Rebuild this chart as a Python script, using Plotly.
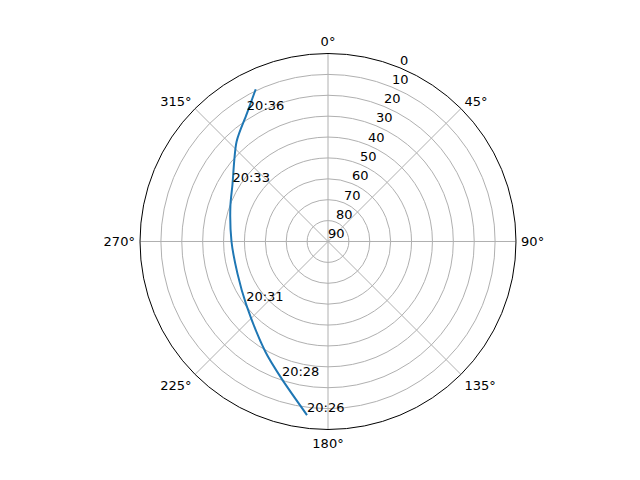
import plotly.graph_objects as go

# satellite pass (azimuth deg, elevation deg)
azimuth = [186.9, 198.5, 209.6, 232.5, 250.3, 270.0, 289.9, 300.7, 317.5, 327.6, 334.6]
elevation = [6.3, 20.5, 29.3, 40.6, 44.0, 43.8, 40.3, 36.8, 25.2, 17.5, 9.3]

# time labels along the track
label_az = [186.9, 198.5, 232.5, 300.7, 327.6]
label_el = [6.3, 20.5, 40.6, 36.8, 17.5]
label_text = ["20:26", "20:28", "20:31", "20:33", "20:36"]

radial_ticks = [0, 10, 20, 30, 40, 50, 60, 70, 80, 90]
angle_ticks = [0, 45, 90, 135, 180, 225, 270, 315]

font = dict(family="DejaVu Sans", size=13, color="black")

fig = go.Figure()

fig.add_trace(go.Scatterpolar(
    r=elevation,
    theta=azimuth,
    mode="lines",
    line=dict(color="#1f77b4", width=2, shape="spline", smoothing=0.8),
    showlegend=False,
))

fig.add_trace(go.Scatterpolar(
    r=label_el,
    theta=label_az,
    mode="text",
    text=label_text,
    textposition="top right",
    textfont=font,
    showlegend=False,
))

# radial tick labels, matplotlib style: along the 22.5 deg spoke
fig.add_trace(go.Scatterpolar(
    r=radial_ticks,
    theta=[22.5] * len(radial_ticks),
    mode="text",
    text=[str(t) for t in radial_ticks],
    textposition="top right",
    textfont=font,
    cliponaxis=False,
    showlegend=False,
))

fig.update_layout(
    width=640,
    height=480,
    margin=dict(l=0, r=0, t=0, b=0),
    paper_bgcolor="white",
    font=font,
    polar=dict(
        domain=dict(x=[0.20625, 0.79375], y=[0.1219, 0.9052]),
        bgcolor="white",
        angularaxis=dict(
            rotation=90,
            direction="clockwise",
            tickvals=angle_ticks,
            ticktext=[f"{a}°" for a in angle_ticks],
            ticks="outside",
            ticklen=2,
            tickcolor="rgba(0,0,0,0)",
            showline=True,
            linecolor="black",
            linewidth=1,
            gridcolor="#b0b0b0",
            gridwidth=1,
        ),
        radialaxis=dict(
            range=[90, 0],
            tickvals=radial_ticks,
            showticklabels=False,
            ticks="",
            showline=False,
            gridcolor="#b0b0b0",
            gridwidth=1,
        ),
    ),
)

fig.write_html("out.html")
